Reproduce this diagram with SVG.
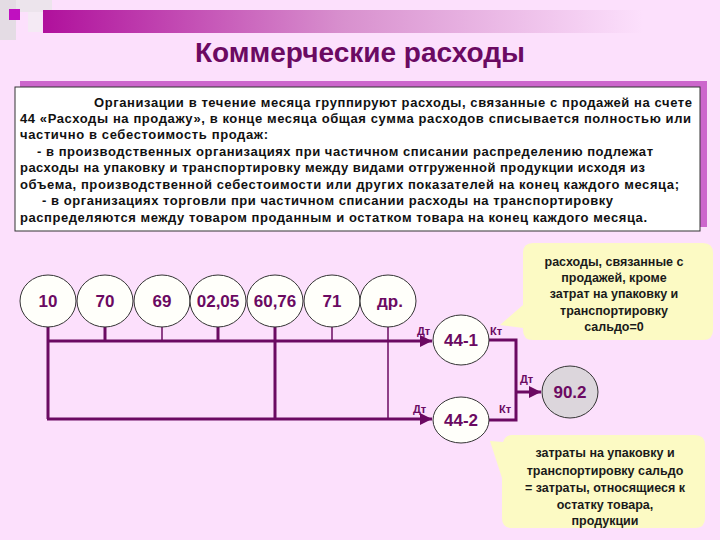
<svg xmlns="http://www.w3.org/2000/svg" width="720" height="540" viewBox="0 0 720 540">
  <defs>
    <linearGradient id="bar" x1="0" y1="0" x2="1" y2="0">
      <stop offset="0" stop-color="#B0109C"/>
      <stop offset="0.5" stop-color="#D890CE"/>
      <stop offset="1" stop-color="#FCE0FC"/>
    </linearGradient>
    <marker id="arr" viewBox="0 0 10 10" refX="10" refY="5" markerWidth="4" markerHeight="4" orient="auto" markerUnits="strokeWidth">
      <path d="M0,0 L10,5 L0,10 z" fill="#6B0A62"/>
    </marker>
    <style>
      .body{font-family:"Liberation Sans",Arial,sans-serif;font-weight:bold;font-size:13px;fill:#111}
      .acc{fill:#FFFFFA;stroke:#333;stroke-width:1}
      .lbl{font-family:"Liberation Sans",Arial,sans-serif;font-weight:bold;font-size:17px;fill:#6B0A62;text-anchor:middle}
      .dk{font-family:"Liberation Sans",Arial,sans-serif;font-weight:bold;font-size:11px;fill:#6B0A62}
      .ln{stroke:#6B0A62;fill:none}
      .call{fill:#FCFAC4}
      .ct{font-family:"Liberation Sans",Arial,sans-serif;font-weight:bold;font-size:12.5px;fill:#1a1a1a;text-anchor:middle}
    </style>
  </defs>
  <rect width="720" height="540" fill="#FCE0FC"/>
  <!-- top decoration -->
  <rect x="0" y="0" width="16" height="40" fill="#E4DCE4"/>
  <rect x="16" y="0" width="36" height="12" fill="#ECE4EC"/>
  <rect x="28" y="12" width="14" height="20" fill="#F4EAF4"/>
  <rect x="9" y="9" width="11" height="11" fill="#C010C0"/>
  <rect x="43" y="10" width="600" height="23" fill="url(#bar)"/>
  <text x="360" y="62" text-anchor="middle" font-family="'Liberation Sans',Arial,sans-serif" font-weight="bold" font-size="27" fill="#6B0A62" textLength="330" lengthAdjust="spacingAndGlyphs">Коммерческие расходы</text>

  <!-- text box -->
  <g id="textbox">
    <rect x="20" y="81" width="687" height="146" fill="#CC66CC"/>
    <rect x="15" y="87" width="685" height="144" fill="#FFFFFF" stroke="#333" stroke-width="1"/>
    <text class="body" x="94" y="107" textLength="598" lengthAdjust="spacing">Организации в течение месяца группируют расходы, связанные с продажей на счете</text>
    <text class="body" x="20" y="123" textLength="671" lengthAdjust="spacing">44 «Расходы на продажу», в конце месяца общая сумма расходов списывается полностью или</text>
    <text class="body" x="20" y="139" textLength="248" lengthAdjust="spacing">частично в себестоимость продаж:</text>
    <text class="body" x="37" y="156" textLength="616" lengthAdjust="spacing">- в производственных организациях при частичном списании распределению подлежат</text>
    <text class="body" x="20" y="172" textLength="625" lengthAdjust="spacing">расходы на упаковку и транспортировку между видами отгруженной продукции исходя из</text>
    <text class="body" x="20" y="189" textLength="659" lengthAdjust="spacing">объема, производственной себестоимости или других показателей на конец каждого месяца;</text>
    <text class="body" x="42" y="205" textLength="571" lengthAdjust="spacing">- в организациях торговли при частичном списании расходы на транспортировку</text>
    <text class="body" x="20" y="222" textLength="627" lengthAdjust="spacing">распределяются между товаром проданным и остатком товара на конец каждого месяца.</text>
  </g>

  <!-- connectors -->
  <g id="connectors">
    <path class="ln" stroke-width="3" d="M48,326 V419"/>
    <path class="ln" stroke-width="3" d="M105,326 V341"/>
    <path class="ln" stroke-width="1.5" d="M162,326 V341"/>
    <path class="ln" stroke-width="3" d="M218,326 V341"/>
    <path class="ln" stroke-width="3" d="M275,326 V419"/>
    <path class="ln" stroke-width="1.5" d="M332,326 V341"/>
    <path class="ln" stroke-width="1.5" d="M388,326 V419"/>
    <path class="ln" stroke-width="3" d="M47,341 H432" marker-end="url(#arr)"/>
    <path class="ln" stroke-width="3" d="M47,419 H432" marker-end="url(#arr)"/>
    <path class="ln" stroke-width="3" d="M489,340 H516 V420 H489"/>
    <path class="ln" stroke-width="3" d="M516,392 H541" marker-end="url(#arr)"/>
    <text class="dk" x="417" y="335">Дт</text>
    <text class="dk" x="490" y="335">Кт</text>
    <text class="dk" x="520" y="383">Дт</text>
    <text class="dk" x="413" y="413">Дт</text>
    <text class="dk" x="499" y="413">Кт</text>
  </g>

  <!-- account nodes -->
  <g id="n10"><ellipse class="acc" cx="48" cy="301" rx="28" ry="26"/><text class="lbl" x="48" y="307">10</text></g>
  <g id="n70"><ellipse class="acc" cx="105" cy="301" rx="28" ry="26"/><text class="lbl" x="105" y="307">70</text></g>
  <g id="n69"><ellipse class="acc" cx="162" cy="301" rx="28" ry="26"/><text class="lbl" x="162" y="307">69</text></g>
  <g id="n0205"><ellipse class="acc" cx="218" cy="301" rx="28" ry="26"/><text class="lbl" x="218" y="307">02,05</text></g>
  <g id="n6076"><ellipse class="acc" cx="275" cy="301" rx="28" ry="26"/><text class="lbl" x="275" y="307">60,76</text></g>
  <g id="n71"><ellipse class="acc" cx="332" cy="301" rx="28" ry="26"/><text class="lbl" x="332" y="307">71</text></g>
  <g id="ndr"><ellipse class="acc" cx="388" cy="301" rx="28" ry="26"/><text class="lbl" x="390" y="307">др.</text></g>
  <g id="n441"><ellipse class="acc" cx="461" cy="340" rx="28" ry="25"/><text class="lbl" x="461" y="346">44-1</text></g>
  <g id="n442"><ellipse class="acc" cx="461" cy="420" rx="28" ry="23"/><text class="lbl" x="461" y="426">44-2</text></g>
  <g id="n902"><ellipse cx="570" cy="392" rx="28" ry="26" fill="#DCD6DC" stroke="#333" stroke-width="1"/><text class="lbl" x="570" y="398">90.2</text></g>

  <!-- callouts -->
  <g id="callout1">
    <path class="call" d="M533,243 H703 Q713,243 713,253 V330 Q713,340 703,340 H533 Q523,340 523,330 V328 L500,325 L523,305 V253 Q523,243 533,243 Z"/>
    <text class="ct" x="614" y="266">расходы, связанные с</text>
    <text class="ct" x="614" y="282">продажей, кроме</text>
    <text class="ct" x="614" y="298">затрат на упаковку и</text>
    <text class="ct" x="614" y="315">транспортировку</text>
    <text class="ct" x="614" y="331">сальдо=0</text>
  </g>
  <g id="callout2">
    <path class="call" d="M512,435 H695 Q705,435 705,445 V518 Q705,528 695,528 H512 Q502,528 502,518 V478 L490,441 L503,442 Q505,435 512,435 Z"/>
    <text class="ct" x="605" y="457">затраты на упаковку и</text>
    <text class="ct" x="605" y="475">транспортировку сальдо</text>
    <text class="ct" x="605" y="492">= затраты, относящиеся к</text>
    <text class="ct" x="605" y="509">остатку товара,</text>
    <text class="ct" x="605" y="525">продукции</text>
  </g>
</svg>
